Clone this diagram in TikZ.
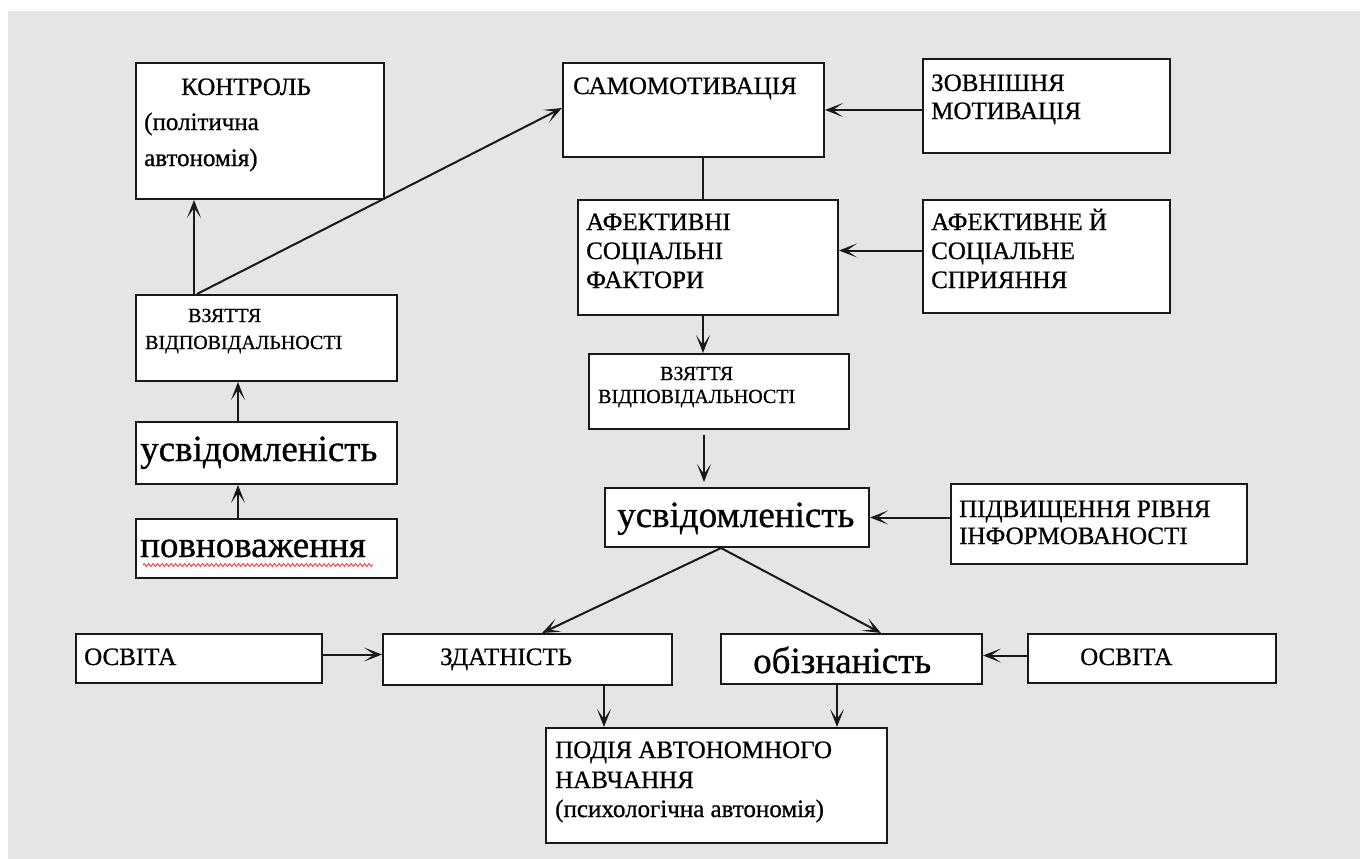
\documentclass[tikz,border=0pt]{standalone}
\usepackage{fontspec}
\setmainfont{LiberationSerif}[Extension=.ttf, UprightFont=*-Regular, BoldFont=*-Bold, FakeBold=0.8]
\usetikzlibrary{arrows.meta,decorations.pathmorphing}
\begin{document}
\begin{tikzpicture}[x=1pt,y=-1pt,
  box/.style={draw=black!90, line width=2pt, fill=white, inner sep=0pt, anchor=north west},
  txt/.style={inner sep=0pt, anchor=base west, font=\fontsize{25}{28}\selectfont},
  smalltxt/.style={inner sep=0pt, anchor=base west, font=\fontsize{20}{23}\selectfont},
  bigtxt/.style={inner sep=0pt, anchor=base west, font=\fontsize{37}{40}\selectfont},
  arr/.style={line width=2pt, draw=black!90, -{Stealth[length=18pt,width=14pt,inset=10pt]}},
  ln/.style={line width=2pt, draw=black!90}]
\useasboundingbox (0,0) rectangle (1360,859);
\fill[white] (0,0) rectangle (1360,859);
\fill[black!10] (8,11) rectangle (1360,859);

% boxes
\node[box, minimum width=248, minimum height=136] (kontrol) at (135,62) {};
\node[box, minimum width=261, minimum height=86] (vzL) at (135,294) {};
\node[box, minimum width=261, minimum height=62] (usvL) at (135,421) {};
\node[box, minimum width=261, minimum height=59] (povn) at (135,518) {};
\node[box, minimum width=261, minimum height=94] (samo) at (562,62) {};
\node[box, minimum width=247, minimum height=94] (zovn) at (922,58) {};
\node[box, minimum width=260, minimum height=115] (afekt) at (577,199) {};
\node[box, minimum width=247, minimum height=113] (afsoc) at (922,199) {};
\node[box, minimum width=260, minimum height=75] (vzM) at (588,353) {};
\node[box, minimum width=264, minimum height=59] (usvM) at (604,487) {};
\node[box, minimum width=296, minimum height=80] (pidv) at (950,483) {};
\node[box, minimum width=246, minimum height=49] (osvL) at (75,633) {};
\node[box, minimum width=289, minimum height=51] (zdat) at (382,633) {};
\node[box, minimum width=261, minimum height=50] (obizn) at (720,633) {};
\node[box, minimum width=248, minimum height=49] (osvR) at (1027,633) {};
\node[box, minimum width=341, minimum height=115] (podia) at (545,727) {};

% texts
\node[txt] (t1a) at (181,95) {КОНТРОЛЬ};
\node[txt] (t1b) at (144,130) {(політична};
\node[txt] (t1c) at (144,166) {автономія)};
\node[smalltxt] (t2a) at (188,322) {ВЗЯТТЯ};
\node[smalltxt] (t2b) at (145,349) {ВІДПОВІДАЛЬНОСТІ};
\node[bigtxt] (t3) at (140,461) {усвідомленість};
\node[bigtxt] (t4) at (140,557) {повноваження};
\node[txt] (t5) at (573,94) {САМОМОТИВАЦІЯ};
\node[txt] (t6a) at (931,91) {ЗОВНІШНЯ};
\node[txt] (t6b) at (931,119) {МОТИВАЦІЯ};
\node[txt] (t7a) at (586,230) {АФЕКТИВНІ};
\node[txt] (t7b) at (586,259) {СОЦІАЛЬНІ};
\node[txt] (t7c) at (586,288) {ФАКТОРИ};
\node[txt] (t8a) at (931,230) {АФЕКТИВНЕ Й};
\node[txt] (t8b) at (931,259) {СОЦІАЛЬНЕ};
\node[txt] (t8c) at (931,288) {СПРИЯННЯ};
\node[smalltxt] (t9a) at (660,380) {ВЗЯТТЯ};
\node[smalltxt] (t9b) at (598,403) {ВІДПОВІДАЛЬНОСТІ};
\node[bigtxt] (t10) at (617,527) {усвідомленість};
\node[txt] (t11a) at (959,517) {ПІДВИЩЕННЯ РІВНЯ};
\node[txt] (t11b) at (959,544) {ІНФОРМОВАНОСТІ};
\node[txt] (t12) at (84,665) {ОСВІТА};
\node[txt] (t13) at (440,665) {ЗДАТНІСТЬ};
\node[bigtxt] (t14) at (753,673) {обізнаність};
\node[txt] (t15) at (1080,665) {ОСВІТА};
\node[txt] (t16a) at (555,758) {ПОДІЯ АВТОНОМНОГО};
\node[txt] (t16b) at (555,788) {НАВЧАННЯ};
\node[txt] (t16c) at (555,817) {(психологічна автономія)};

% spell-check squiggle
\coordinate (sqA) at (143,565);
\coordinate (sqB) at (373,565);
\draw[red!85, line width=0.8pt, decorate, decoration={zigzag, segment length=4.5pt, amplitude=1.4pt}] (sqA) -- (sqB);

% connectors
\draw[arr] ([xshift=59pt]vzL.north west) -- ([xshift=59pt]kontrol.south west);
\draw[arr] ([xshift=62pt]vzL.north west) -- ([yshift=2pt]samo.west);
\draw[arr] ([xshift=103pt]usvL.north west) -- ([xshift=103pt]vzL.south west);
\draw[arr] ([xshift=103pt]povn.north west) -- ([xshift=103pt]usvL.south west);
\draw[ln] ([xshift=141pt]samo.south west) -- ([xshift=126pt]afekt.north west);
\draw[arr] (samo.east -| zovn.west) -- (samo.east);
\draw[arr] ([yshift=6pt]afsoc.west) -- ([yshift=6pt]afsoc.west -| afekt.east);
\draw[arr] ([xshift=126pt]afekt.south west) -- ([xshift=115pt]vzM.north west);
\draw[arr, shorten <=5pt, shorten >=5pt] ([xshift=116pt]vzM.south west) -- ([xshift=100pt]usvM.north west);
\draw[arr] (usvM.east -| pidv.west) -- (usvM.east);
\draw[arr] ([xshift=117pt]usvM.south west) -- ([xshift=160pt]zdat.north west);
\draw[arr] ([xshift=117pt]usvM.south west) -- ([xshift=161pt]obizn.north west);
\draw[arr] ([yshift=4pt]osvL.east) -- ([yshift=4pt]osvL.east -| zdat.west);
\draw[arr] ([yshift=3pt]osvR.west) -- ([yshift=3pt]osvR.west -| obizn.east);
\draw[arr] ([xshift=222pt]zdat.south west) -- ([xshift=59pt]podia.north west);
\draw[arr] ([xshift=117pt]obizn.south west) -- ([xshift=292pt]podia.north west);
\end{tikzpicture}
\end{document}
